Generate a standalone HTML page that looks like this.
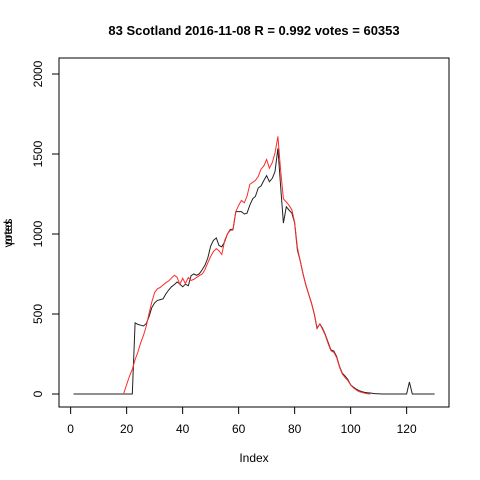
<!DOCTYPE html>
<html><head><meta charset="utf-8"><style>
body{margin:0;background:#fff}
svg{display:block;font-family:"Liberation Sans",Arial,sans-serif}
</style></head><body>
<svg id="chart" width="480" height="480" viewBox="0 0 480 480">
<rect width="480" height="480" fill="#fff"/>
<text x="254" y="35" text-anchor="middle" font-size="13" font-weight="bold">83 Scotland 2016-11-08 R = 0.992 votes = 60353</text>
<rect x="59" y="58" width="390" height="349" fill="none" stroke="#000"/>
<g id="xaxis"></g>
<g id="yaxis"></g>
<text x="254" y="462" text-anchor="middle" font-size="12">Index</text>
<text transform="translate(12,233) rotate(-90)" text-anchor="middle" font-size="12">votes</text>
<text transform="translate(12,233) rotate(-90)" text-anchor="middle" font-size="12">pred</text>
<path id="black" fill="none" stroke="#222" stroke-width="1"/>
<path id="red" fill="none" stroke="#ff2a2a" stroke-width="1"/>
</svg>
<script>
const xTicks=[0,20,40,60,80,100,120];
const yTicks=[0,500,1000,1500,2000];
const votesStart=1;
const votes=[0,0,0,0,0,0,0,0,0,0,0,0,0,0,0,0,0,0,0,0,0,0,
445,435,430,425,440,485,540,570,585,590,595,625,650,670,684,700,688,670,686,676,740,750,742,752,778,805,850,925,960,975,928,920,952,1000,1028,1030,1140,1140,1140,1125,1130,1180,1220,1235,1288,1300,1335,1365,1327,1348,1390,1535,1300,1068,1170,1150,1130,1070,900,830,752,680,625,570,500,410,438,410,370,320,275,268,235,175,130,113,90,58,43,30,21,15,10,8,6,4,2,1,
0,0,0,0,0,0,0,0,0,0,75,0,0,0,0,0,0,0,0,0];
const predStart=19;
const pred=[5,60,110,155,215,260,320,365,425,505,575,635,657,667,681,695,707,724,742,730,685,723,690,728,710,716,729,740,750,778,820,860,890,908,895,872,960,1000,1023,1025,1140,1180,1210,1195,1235,1310,1323,1335,1360,1405,1426,1466,1411,1446,1505,1610,1400,1220,1200,1180,1150,1075,915,830,752,680,625,570,500,415,437,404,365,312,270,260,228,170,125,104,84,56,38,25,15,10,5,2,0];
const X=v=>70.65+v*2.8;
const Y=v=>394-v*0.16;
const NS="http://www.w3.org/2000/svg";
function mk(tag,attrs,parent){const e=document.createElementNS(NS,tag);for(const k in attrs)e.setAttribute(k,attrs[k]);parent.appendChild(e);return e;}
const xa=document.getElementById('xaxis'),ya=document.getElementById('yaxis');
mk('line',{x1:X(xTicks[0]),x2:X(xTicks[xTicks.length-1]),y1:407,y2:407,stroke:'#000'},xa);
xTicks.forEach(t=>{
 const l=mk('line',{x1:X(t),x2:X(t),y1:407,y2:414,stroke:'#000'},xa);
 
 
 const s=mk('text',{x:X(t),y:433,'text-anchor':'middle','font-size':12},xa);s.textContent=t;
 
 
});
mk('line',{x1:59,x2:59,y1:Y(yTicks[0]),y2:Y(yTicks[yTicks.length-1]),stroke:'#000'},ya);
yTicks.forEach(t=>{
 const l=mk('line',{x1:52,x2:59,y1:Y(t),y2:Y(t),stroke:'#000'},ya);
 
 
 const s=mk('text',{transform:`translate(42,${Y(t)}) rotate(-90)`,'text-anchor':'middle','font-size':12},ya);s.textContent=t;
 
 
});
function path(arr,start){return arr.map((v,i)=>(i?'L':'M')+X(start+i).toFixed(1)+','+Y(v).toFixed(1)).join('');}
document.getElementById('black').setAttribute('d',path(votes,votesStart));
document.getElementById('red').setAttribute('d',path(pred,predStart));
</script>
</body></html>
